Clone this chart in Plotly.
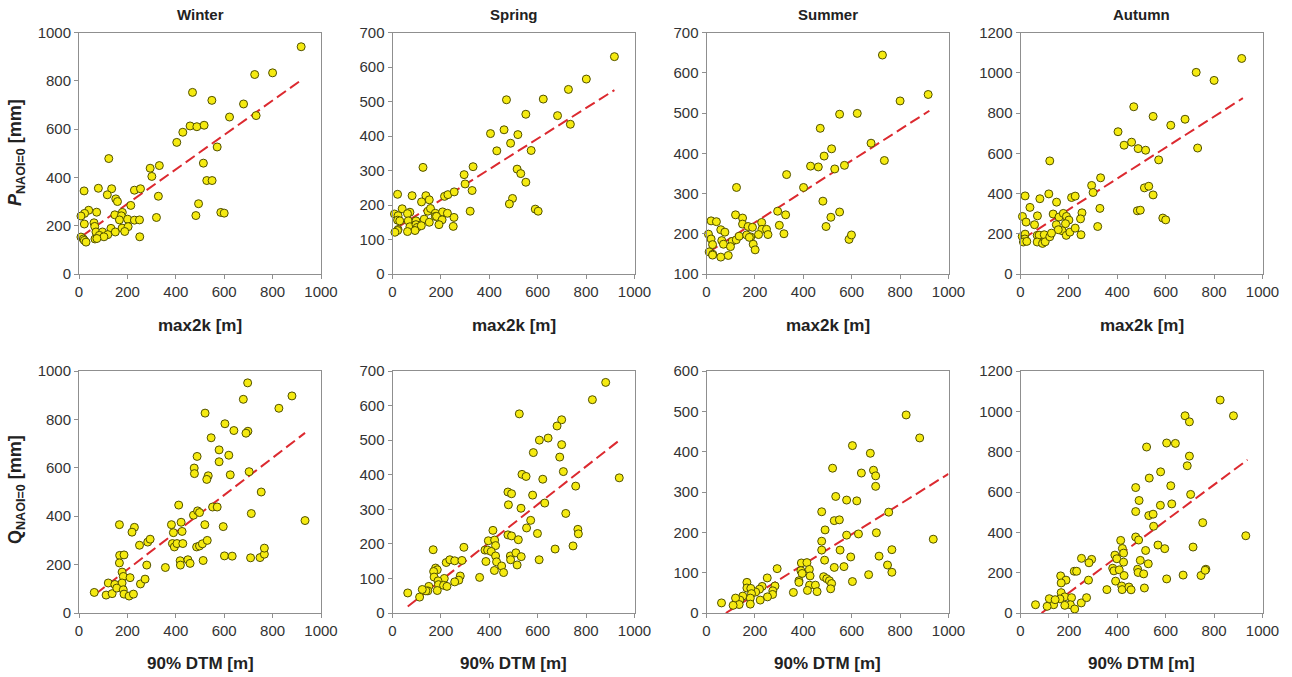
import plotly.graph_objects as go

# ---------------- data ----------------
seasons = ["Winter", "Spring", "Summer", "Autumn"]

# Top row: x = max2k [m], y = P_NAOI=0 [mm]
winter_p_x = [918, 726, 800, 469, 549, 680, 622, 732, 459, 487, 517, 429, 404, 571, 514, 123, 294, 332, 301, 328,
              528, 550, 494, 320, 483, 586, 600, 21, 80, 135, 117, 152, 159, 229, 254, 214, 40, 73, 23, 8,
              179, 148, 175, 22, 62, 65, 132, 167, 201, 229, 250, 178, 203, 189, 150, 70, 97, 119, 84, 103,
              66, 74, 8, 18, 22, 29, 251]
winter_p_y = [941, 826, 833, 752, 719, 704, 650, 656, 613, 610, 616, 587, 545, 526, 459, 478, 438, 449, 404, 322,
              387, 387, 291, 234, 242, 255, 252, 344, 355, 353, 328, 311, 300, 347, 353, 284, 264, 256, 251, 240,
              255, 245, 241, 207, 212, 197, 189, 224, 227, 223, 224, 190, 196, 176, 174, 174, 174, 163, 160, 154,
              145, 147, 153, 145, 139, 132, 154]

spring_p_x = [917, 801, 727, 623, 471, 551, 682, 735, 405, 461, 518, 488, 431, 573, 333, 296, 300, 515, 530, 551,
              329, 321, 496, 483, 590, 602, 126, 21, 81, 138, 152, 120, 215, 229, 255, 40, 72, 8, 23, 21,
              62, 146, 157, 177, 177, 207, 227, 65, 97, 131, 152, 182, 205, 254, 251, 192, 30, 72, 97, 102,
              119, 93, 62, 23, 21, 10]
spring_p_y = [630, 565, 535, 507, 505, 463, 459, 434, 407, 418, 404, 379, 357, 358, 311, 288, 261, 304, 291, 266,
              242, 182, 219, 203, 188, 182, 309, 231, 227, 227, 215, 209, 225, 230, 238, 189, 179, 174, 169, 156,
              175, 182, 190, 176, 167, 180, 176, 154, 154, 159, 150, 167, 157, 164, 138, 143, 154, 137, 143, 135,
              140, 126, 123, 129, 126, 121]

summer_p_x = [727, 800, 916, 550, 623, 470, 680, 735, 517, 486, 430, 462, 530, 570, 331, 401, 294, 327, 301, 320,
              481, 514, 550, 494, 589, 599, 124, 120, 149, 19, 41, 149, 172, 190, 228, 229, 248, 215, 254, 59,
              76, 8, 19, 25, 63, 70, 106, 123, 135, 166, 183, 177, 193, 201, 99, 11, 26, 25, 59, 90]
summer_p_y = [644, 530, 546, 497, 499, 462, 425, 382, 411, 393, 368, 366, 361, 370, 347, 315, 256, 247, 221, 200,
              281, 241, 254, 218, 186, 197, 315, 247, 239, 232, 230, 224, 218, 216, 228, 211, 211, 198, 198, 210,
              204, 199, 187, 173, 183, 174, 181, 185, 194, 197, 192, 191, 174, 160, 168, 155, 149, 147, 142, 146]

autumn_p_x = [914, 726, 800, 468, 548, 680, 621, 403, 428, 459, 486, 517, 732, 571, 121, 331, 294, 300, 512, 530,
              548, 328, 319, 483, 495, 588, 600, 19, 80, 117, 149, 39, 8, 23, 70, 135, 159, 177, 190, 211,
              226, 254, 248, 200, 186, 148, 172, 189, 204, 226, 156, 58, 250, 7, 19, 18, 12, 26, 69, 77,
              69, 98, 91, 102, 121, 128]
autumn_p_y = [1071, 1002, 962, 831, 783, 769, 739, 707, 640, 655, 623, 615, 626, 567, 562, 478, 440, 405, 428, 436,
              393, 326, 236, 314, 317, 278, 269, 388, 374, 398, 357, 331, 286, 258, 289, 298, 283, 301, 286, 380,
              387, 304, 274, 268, 250, 245, 215, 192, 208, 228, 220, 245, 195, 187, 198, 174, 159, 162, 192, 193,
              159, 195, 152, 160, 185, 203]

# Bottom row: x = 90% DTM [m], y = Q_NAOI=0 [mm]
winter_q_x = [697, 679, 880, 826, 521, 603, 640, 698, 690, 546, 579, 619, 488, 579, 476, 477, 534, 528, 625, 703,
              753, 412, 552, 571, 473, 490, 498, 712, 934, 422, 382, 390, 426, 520, 596, 167, 229, 219, 250, 284,
              294, 386, 394, 405, 429, 486, 498, 510, 530, 168, 186, 167, 357, 418, 419, 450, 459, 513, 601, 633,
              709, 748, 766, 766, 178, 183, 121, 148, 178, 211, 254, 273, 280, 63, 112, 137, 156, 183, 186, 207,
              225]
winter_q_y = [951, 883, 897, 846, 826, 782, 754, 751, 743, 724, 674, 652, 647, 625, 599, 576, 567, 552, 571, 584,
              500, 446, 438, 438, 404, 422, 415, 411, 382, 375, 365, 332, 337, 365, 357, 365, 354, 334, 280, 293,
              305, 287, 273, 287, 287, 273, 277, 286, 300, 238, 240, 207, 188, 216, 198, 220, 205, 217, 236, 235,
              228, 229, 243, 268, 169, 151, 124, 118, 124, 146, 120, 140, 198, 85, 74, 80, 103, 96, 78, 70,
              78]

spring_q_x = [881, 826, 524, 699, 680, 607, 643, 699, 582, 691, 706, 937, 535, 552, 621, 757, 477, 492, 579, 479,
              531, 629, 716, 571, 554, 766, 768, 599, 415, 477, 492, 520, 396, 422, 426, 382, 393, 408, 386, 426,
              430, 451, 421, 459, 487, 488, 510, 532, 515, 606, 672, 746, 360, 168, 295, 222, 237, 257, 287, 178,
              185, 170, 172, 214, 280, 274, 257, 188, 190, 211, 225, 185, 150, 146, 138, 123, 112, 63]
spring_q_y = [667, 617, 576, 559, 541, 500, 506, 487, 464, 451, 409, 391, 401, 395, 387, 367, 350, 345, 341, 313,
              303, 318, 288, 268, 246, 242, 229, 230, 239, 226, 223, 212, 209, 211, 195, 182, 182, 178, 149, 165,
              148, 136, 123, 117, 165, 154, 174, 163, 139, 154, 185, 194, 103, 183, 190, 146, 154, 151, 152, 130,
              125, 120, 104, 100, 107, 95, 90, 93, 82, 80, 77, 65, 77, 64, 64, 68, 46, 58]

summer_q_x = [825, 881, 603, 677, 521, 640, 690, 699, 699, 534, 579, 621, 476, 753, 528, 549, 490, 579, 628, 702,
              937, 476, 476, 552, 766, 488, 596, 713, 528, 568, 748, 766, 670, 603, 292, 392, 415, 390, 425, 395,
              428, 382, 382, 426, 417, 450, 457, 359, 484, 497, 508, 517, 513, 251, 283, 274, 273, 252, 230, 219,
              203, 167, 167, 183, 186, 181, 181, 222, 150, 138, 120, 135, 110, 62]
summer_q_y = [491, 434, 415, 396, 359, 347, 354, 340, 314, 289, 280, 278, 251, 250, 229, 231, 206, 193, 196, 199,
              183, 178, 156, 156, 157, 131, 139, 141, 113, 115, 119, 101, 95, 78, 110, 124, 125, 105, 108, 98,
              92, 80, 76, 69, 56, 69, 53, 51, 90, 85, 80, 73, 60, 87, 67, 55, 46, 40, 66, 59,
              52, 76, 62, 61, 48, 37, 22, 32, 42, 32, 37, 21, 19, 25]

autumn_q_x = [825, 680, 698, 880, 521, 604, 640, 698, 689, 579, 532, 621, 476, 703, 490, 476, 578, 625, 530, 548,
              550, 753, 931, 476, 488, 568, 596, 713, 414, 421, 426, 517, 495, 528, 390, 398, 426, 252, 294, 283,
              381, 386, 408, 484, 486, 509, 393, 418, 420, 448, 457, 428, 357, 512, 604, 672, 746, 766, 763, 281,
              222, 232, 166, 188, 168, 168, 183, 163, 211, 206, 224, 183, 137, 119, 110, 143, 251, 273, 62]
autumn_q_y = [1056, 978, 948, 978, 823, 843, 841, 778, 730, 700, 669, 631, 622, 588, 558, 503, 534, 541, 483, 490,
              430, 448, 383, 377, 362, 337, 319, 327, 360, 320, 297, 310, 261, 244, 287, 269, 252, 271, 266, 249,
              222, 209, 214, 217, 201, 194, 158, 134, 116, 129, 115, 186, 116, 124, 169, 188, 186, 217, 212, 163,
              207, 207, 184, 163, 149, 101, 80, 70, 76, 41, 20, 38, 41, 71, 33, 66, 50, 76, 41]

# Dashed regression lines: intercept, slope, x-start, x-end
trend_top = {"Winter": (148, 0.713, 10, 918), "Spring": (126, 0.444, 15, 917),
             "Summer": (151, 0.385, 7, 921), "Autumn": (167, 0.769, 11, 919)}
trend_bottom = {"Winter": (26, 0.769, 70, 934), "Spring": (-16, 0.55, 63, 937),
                "Summer": (-30, 0.375, 80, 1000), "Autumn": (-78, 0.893, 87, 938)}

# Axis ranges and tick steps
y_top_range = {"Winter": (0, 1000, 200), "Spring": (0, 700, 100), "Summer": (100, 700, 100), "Autumn": (0, 1200, 200)}
y_bottom_range = {"Winter": (0, 1000, 200), "Spring": (0, 700, 100), "Summer": (0, 600, 100), "Autumn": (0, 1200, 200)}

top_data = {"Winter": (winter_p_x, winter_p_y), "Spring": (spring_p_x, spring_p_y),
            "Summer": (summer_p_x, summer_p_y), "Autumn": (autumn_p_x, autumn_p_y)}
bottom_data = {"Winter": (winter_q_x, winter_q_y), "Spring": (spring_q_x, spring_q_y),
               "Summer": (summer_q_x, summer_q_y), "Autumn": (autumn_q_x, autumn_q_y)}

# ---------------- layout geometry ----------------
W, H = 1292, 677
col_left = [79, 392.5, 706.5, 1020.5]
panel_w = 242
row_px = [(32.5, 274), (371, 613)]

FONT = "Liberation Sans, Arial, sans-serif"
TICK_FONT = dict(family=FONT, size=15, color="#333333")
AXIS_COL = "#8f8f8f"

fig = go.Figure()
layout = dict(width=W, height=H, margin=dict(l=0, r=0, t=0, b=0, autoexpand=False),
              paper_bgcolor="white", plot_bgcolor="white", showlegend=False,
              font=dict(family=FONT))
annotations = []

idx = 0
for r, (dataset, trends, yr) in enumerate([(top_data, trend_top, y_top_range),
                                           (bottom_data, trend_bottom, y_bottom_range)]):
    top_px, bot_px = row_px[r]
    for c, s in enumerate(seasons):
        idx += 1
        xa = "x" if idx == 1 else f"x{idx}"
        ya = "y" if idx == 1 else f"y{idx}"
        xs, ys = dataset[s]
        b0, b1, xa0, xa1 = trends[s]
        fig.add_trace(go.Scatter(x=[xa0, xa1], y=[b0 + b1 * xa0, b0 + b1 * xa1], mode="lines",
                                 line=dict(color="#dc2a30", width=2, dash="11px,5px"),
                                 xaxis=xa, yaxis=ya, hoverinfo="skip"))
        fig.add_trace(go.Scatter(x=xs, y=ys, mode="markers", cliponaxis=False,
                                 marker=dict(size=8, color="#f5ea10",
                                             line=dict(color="#505000", width=1)),
                                 xaxis=xa, yaxis=ya))
        x0 = col_left[c] / W
        x1 = (col_left[c] + panel_w) / W
        y0 = 1 - bot_px / H
        y1 = 1 - top_px / H
        lo, hi, step = yr[s]
        common = dict(showgrid=False, zeroline=False, showline=True, linecolor=AXIS_COL, linewidth=1,
                      mirror=True, ticks="outside", ticklen=4, tickcolor=AXIS_COL, tickfont=TICK_FONT)
        layout["xaxis" if idx == 1 else f"xaxis{idx}"] = dict(
            domain=[x0, x1], range=[0, 1000], tick0=0, dtick=200, anchor=ya, **common)
        layout["yaxis" if idx == 1 else f"yaxis{idx}"] = dict(
            domain=[y0, y1], range=[lo, hi], tick0=lo, dtick=step, anchor=xa, **common)
        xc = (x0 + x1) / 2
        if r == 0:
            annotations.append(dict(text=f"<b>{s}</b>", x=xc, y=1 - 15 / H, xref="paper", yref="paper",
                                    showarrow=False, font=dict(family=FONT, size=15, color="#222222"),
                                    xanchor="center", yanchor="middle"))
            annotations.append(dict(text="<b>max2k [m]</b>", x=xc, y=1 - 326 / H, xref="paper", yref="paper",
                                    showarrow=False, font=dict(family=FONT, size=17, color="#222222"),
                                    xanchor="center", yanchor="middle"))
        else:
            annotations.append(dict(text="<b>90% DTM [m]</b>", x=xc, y=1 - 663 / H, xref="paper", yref="paper",
                                    showarrow=False, font=dict(family=FONT, size=17, color="#222222"),
                                    xanchor="center", yanchor="middle"))

annotations.append(dict(text="<b><i>P</i><sub>NAOI=0</sub> [mm]</b>", x=16 / W, y=1 - 153 / H,
                        xref="paper", yref="paper", showarrow=False, textangle=-90,
                        font=dict(family=FONT, size=18, color="#222222"), xanchor="center", yanchor="middle"))
annotations.append(dict(text="<b>Q<sub>NAOI=0</sub> [mm]</b>", x=16 / W, y=1 - 490 / H,
                        xref="paper", yref="paper", showarrow=False, textangle=-90,
                        font=dict(family=FONT, size=18, color="#222222"), xanchor="center", yanchor="middle"))
layout["annotations"] = annotations
fig.update_layout(**layout)
fig.write_html("out.html", config={"displayModeBar": False},
               post_script="document.body.style.margin='0';document.body.style.overflow='hidden';")
